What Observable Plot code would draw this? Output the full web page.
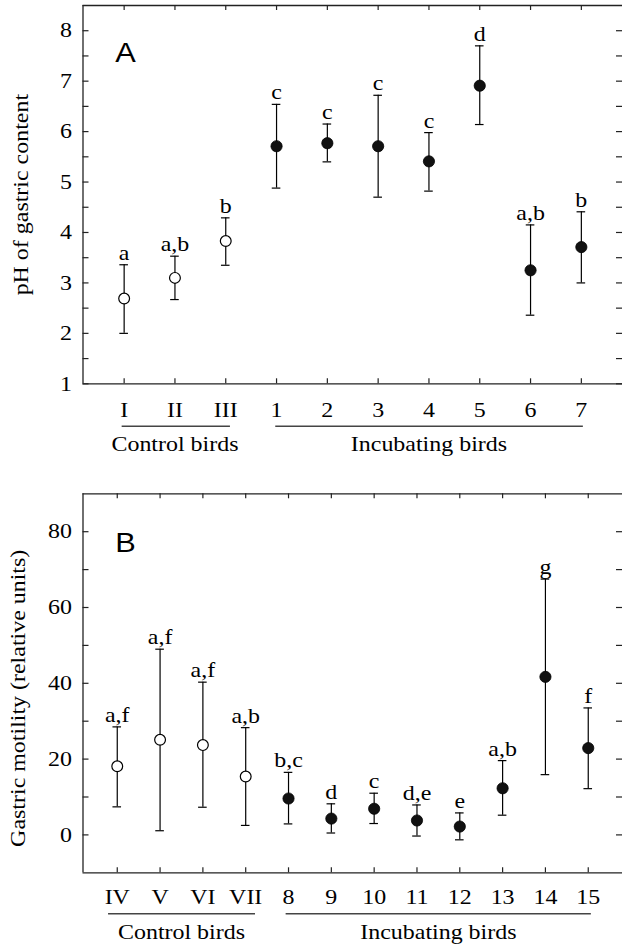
<!DOCTYPE html>
<html><head><meta charset="utf-8">
<script src="https://cdn.jsdelivr.net/npm/d3@7"></script>
<script src="https://cdn.jsdelivr.net/npm/@observablehq/plot@0.6"></script>
<style>
html,body{margin:0;padding:0;background:#fff;overflow:hidden;}
#chart{width:622px;}
#chart svg{display:block;}
</style></head><body><div id="chart"></div>
<script>
// ---- Panel A: pH of gastric content ----
const catsA   = ["I","II","III","1","2","3","4","5","6","7"];
const groupA  = ["Control birds","Control birds","Control birds","Incubating birds","Incubating birds","Incubating birds","Incubating birds","Incubating birds","Incubating birds","Incubating birds"];
const meanA   = [2.69,3.10,3.83,5.71,5.77,5.71,5.41,6.91,3.25,3.71];
const upperA  = [3.36,3.53,4.29,6.54,6.15,6.72,5.98,7.70,4.15,4.41];
const lowerA  = [2.00,2.67,3.35,4.88,5.40,4.70,4.82,6.14,2.36,3.00];
const lettersA= ["a","a,b","b","c","c","c","c","d","a,b","b"];
const yTicksA = [1,2,3,4,5,6,7,8];
const yMinorA = [1.5,2.5,3.5,4.5,5.5,6.5,7.5];

// ---- Panel B: gastric motility ----
const catsB   = ["IV","V","VI","VII","8","9","10","11","12","13","14","15"];
const groupB  = ["Control birds","Control birds","Control birds","Control birds","Incubating birds","Incubating birds","Incubating birds","Incubating birds","Incubating birds","Incubating birds","Incubating birds","Incubating birds"];
const meanB   = [18.1,25.1,23.7,15.4,9.6,4.3,6.9,3.8,2.2,12.3,41.7,22.9];
const upperB  = [28.5,49.0,40.3,28.3,16.5,8.2,11.0,7.9,5.8,19.6,67.5,33.5];
const lowerB  = [7.4,1.1,7.3,2.5,2.9,0.5,3.0,-0.3,-1.3,5.2,15.9,12.2];
const lettersB= ["a,f","a,f","a,f","a,b","b,c","d","c","d,e","e","a,b","g","f"];
const yTicksB = [0,20,40,60,80];
const yMinorB = [10,30,50,70];

const SERIF = "'Liberation Serif','Times New Roman',serif";
const SANS = "'Liberation Sans',Arial,sans-serif";
const FS = 21;          // font size
const WIDEN = 1.14;     // the original typeface is set wide

function panel(cfg) {
  const {cats, group, mean, upper, lower, letters, yDomain, yTicks, yMinor, yLabel, letter,
         height, marginTop, marginBottom, xPad, underDy, groupDy, insets, letterDy} = cfg;
  const width = 622, marginLeft = 82.5, marginRight = 0;
  const pw = width - marginLeft - marginRight;
  const ph = height - marginTop - marginBottom;
  const n = cats.length;
  const idx = d3.range(n);
  const rows = idx.map(i => ({i, cat: cats[i], group: group[i], mean: mean[i], upper: upper[i], lower: lower[i], letter: letters[i]}));
  const groupNames = Array.from(new Set(group));
  const groups = groupNames.map(g => {
    const ii = idx.filter(i => group[i] === g);
    return {name: g, first: d3.min(ii), last: d3.max(ii)};
  });
  const allY = yTicks.concat(yMinor);
  const ink = "#222";
  return Plot.plot({
    width, height, marginLeft, marginRight, marginTop, marginBottom,
    style: {fontFamily: SERIF, fontSize: FS + "px", color: "#000", background: "#fff"},
    x: {type: "linear", domain: [-xPad, n - 1 + xPad]},
    y: {domain: yDomain},
    marks: [
      // frame: left, top, bottom
      Plot.ruleX([-xPad], {stroke: ink, strokeWidth: 1.3}),
      Plot.ruleY([yDomain[0], yDomain[1]], {stroke: ink, strokeWidth: 1.3}),
      // inward ticks
      Plot.tickY(allY, {y: d => d, insetRight: pw - 6, stroke: ink, strokeWidth: 1.2}),
      Plot.tickY(allY, {y: d => d, insetLeft: pw - 6, stroke: ink, strokeWidth: 1.2}),
      Plot.tickX(idx, {x: d => d, insetTop: ph - 5, stroke: ink, strokeWidth: 1.2}),
      Plot.tickX(idx, {x: d => d, insetBottom: ph - 5, stroke: ink, strokeWidth: 1.2}),
      // axis labels
      Plot.axisY({ticks: yTicks, tickSize: 0, tickPadding: 11, label: null, fontSize: FS}),
      Plot.axisX({ticks: idx, tickFormat: i => cats[i], tickSize: 0, tickPadding: cfg.xTickPad, label: null, fontSize: FS}),
      // group underlines and names
      ...groups.map((g, k) => Plot.ruleY([g], {x1: "first", x2: "last", y: () => yDomain[0], dy: underDy,
        insetLeft: insets[k][0], insetRight: insets[k][1], stroke: "#444", strokeWidth: 1.4})),
      Plot.text(groups, {x: d => (d.first + d.last) / 2, y: () => yDomain[0], dy: groupDy, text: "name", fontSize: FS, lineAnchor: "middle"}),
      // error bars
      Plot.ruleX(rows, {x: "i", y1: "lower", y2: "upper", stroke: "#000", strokeWidth: 1.2}),
      Plot.ruleY(rows, {x1: "i", x2: "i", y: "upper", insetLeft: -4.3, insetRight: -4.3, stroke: "#000", strokeWidth: 1.2}),
      Plot.ruleY(rows, {x1: "i", x2: "i", y: "lower", insetLeft: -4.3, insetRight: -4.3, stroke: "#000", strokeWidth: 1.2}),
      // points
      Plot.dot(rows.filter(d => d.group === "Control birds"), {x: "i", y: "mean", r: 5.4, fill: "#fff", stroke: "#000", strokeWidth: 1.2}),
      Plot.dot(rows.filter(d => d.group !== "Control birds"), {x: "i", y: "mean", r: 5.6, fill: "#111", stroke: "#000", strokeWidth: 0.8}),
      // significance letters
      Plot.text(rows, {x: "i", y: "upper", text: "letter", lineAnchor: "bottom", dy: letterDy, fontSize: FS}),
      // y title
      Plot.text([yLabel], {frameAnchor: "left", dx: cfg.titleDx, dy: cfg.titleDy, rotate: -90, textAnchor: "middle", lineAnchor: "middle", fontSize: FS}),
      // panel letter
      Plot.text([letter], {frameAnchor: "top-left", dx: 32.3, dy: cfg.letterTop, textAnchor: "start", lineAnchor: "top",
        fontFamily: SANS, fontSize: 27})
    ]
  });
}

function widen(svg) {
  svg.querySelectorAll("text").forEach(t => {
    const L = t.getComputedTextLength();
    if (L > 0) {
      t.setAttribute("textLength", (L * WIDEN).toFixed(2));
      t.setAttribute("lengthAdjust", "spacingAndGlyphs");
    }
  });
}

const chart = document.getElementById("chart");
const svgA = panel({
  cats: catsA, group: groupA, mean: meanA, upper: upperA, lower: lowerA, letters: lettersA,
  yDomain: [1, 8.5], yTicks: yTicksA, yMinor: yMinorA, yLabel: "pH of gastric content", letter: "A",
  height: 465, marginTop: 5, marginBottom: 81.7, xPad: 0.81, xTickPad: 18.5,
  underDy: 42.4, groupDy: 60.7, insets: [[-2, -4.7], [-0.8, -2]], letterDy: -5, titleDx: -61.5, titleDy: 0, letterTop: 37
});
const svgB = panel({
  cats: catsB, group: groupB, mean: meanB, upper: upperB, lower: lowerB, letters: lettersB,
  yDomain: [-10, 90], yTicks: yTicksB, yMinor: yMinorB, yLabel: "Gastric motility (relative units)", letter: "B",
  height: 479, marginTop: 28.3, marginBottom: 71.7, xPad: 0.8, xTickPad: 16.5,
  underDy: 41, groupDy: 59.4, insets: [[-8.7, -9.8], [-2.4, -3.1]], letterDy: -5, titleDx: -64.5, titleDy: 15, letterTop: 38.7
});
chart.append(svgA, svgB);
widen(svgA); widen(svgB);
</script>
</body></html>
